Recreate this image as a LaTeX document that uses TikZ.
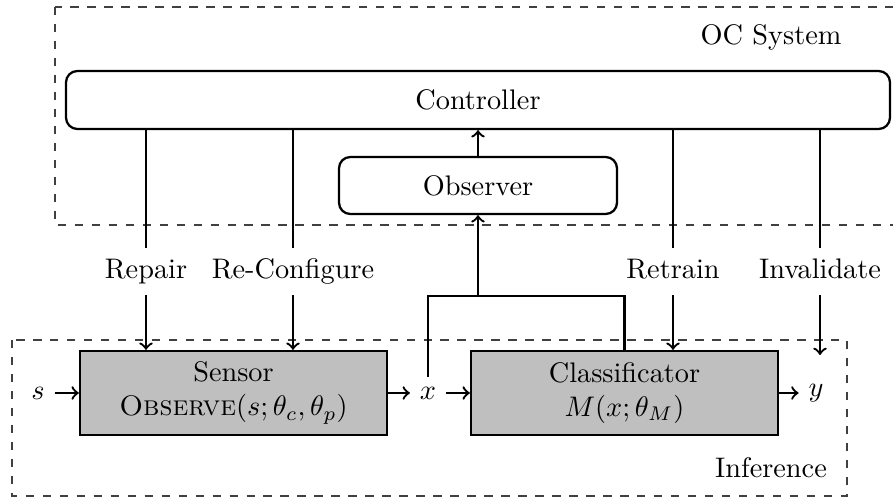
\documentclass[tikz,border=0pt]{standalone}
\usetikzlibrary{calc}
\begin{document}
\begin{tikzpicture}[x=0.01242cm,y=-0.01242cm,
  ctrlbox/.style={draw,thick,rounded corners=4pt,minimum width=10.234cm,minimum height=0.72cm,inner sep=0pt},
  obsbox/.style={draw,thick,rounded corners=4pt,minimum width=3.453cm,minimum height=0.708cm,inner sep=0pt},
  procbox/.style={draw,thick,fill=black!25,minimum width=3.813cm,minimum height=1.043cm,inner sep=0pt,align=center},
  lbl/.style={anchor=base,text height=0.7em,text depth=0.25em},
  grp/.style={draw=black!75,dashed},
  thinline/.style={draw,thin},
  arr/.style={->,thick}]
\useasboundingbox (0,0) rectangle (893,498);
\draw[grp] (55,7) rectangle (910,225);
\draw[grp] (12,340) rectangle (847,496);
\node (ocs) at (771,37) {OC System};
\node (inf) at (771,468) {Inference};
\node[ctrlbox] (ctrl) at (478,100) {Controller};
\node[obsbox] (obs) at (478,185.5) {Observer};
\node[procbox] (sens) at (233.5,393) {Sensor\\\textsc{Observe}$(s;\theta_c,\theta_p)$};
\node[procbox] (cls) at (624.5,393) {Classificator\\$M(x;\theta_M)$};
\node (s) at (38,393) {$s$};
\node (xn) at (428,393) {$x$};
\node (yn) at (816,393) {$y$};
\node[lbl] (rep) at (146,278) {Repair};
\node[lbl] (rec) at (293,278) {Re-Configure};
\node[lbl] (ret) at (673,278) {Retrain};
\node[lbl] (inv) at (820,278) {Invalidate};
\coordinate (invend) at (820,355);
\coordinate (jn) at (478,296);
\draw[arr] (obs) -- (ctrl);
\draw[thinline] (ctrl.south -| rep) -- (rep);
\draw[thinline] (ctrl.south -| rec) -- (rec);
\draw[thinline] (ctrl.south -| ret) -- (ret);
\draw[thinline] (ctrl.south -| inv) -- (inv);
\draw[arr] (rep) -- (sens.north -| rep);
\draw[arr] (rec) -- (sens.north -| rec);
\draw[arr] (ret) -- (cls.north -| ret);
\draw[arr] (inv) -- (invend);
\draw[arr] (s) -- (sens);
\draw[arr] (sens) -- (xn);
\draw[arr] (xn) -- (cls);
\draw[arr] (cls) -- (yn);
\draw[thick] (xn.north) |- (jn) -| (cls.north);
\draw[arr] (jn) -- (obs);
\end{tikzpicture}
\end{document}
